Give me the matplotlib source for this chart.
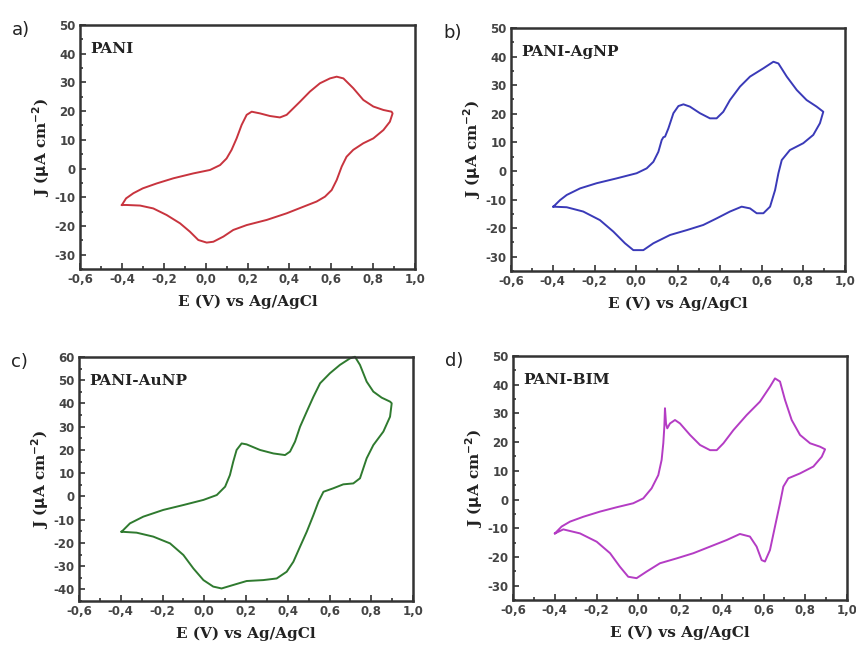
import matplotlib.pyplot as plt
from matplotlib.ticker import MultipleLocator, FuncFormatter

# ---- data (E in V vs Ag/AgCl, J in uA cm-2) ----
# each loop starts at the -0.4 V vertex, runs the anodic branch to 0.9 V and back
E_pani = [-0.40, -0.38, -0.345, -0.30, -0.234, -0.154, -0.059, 0.021, 0.069, 0.10, 0.124,
          0.148, 0.172, 0.196, 0.22, 0.26, 0.307, 0.355, 0.387, 0.419, 0.451, 0.498, 0.546,
          0.594, 0.626, 0.658, 0.705, 0.753, 0.801, 0.849, 0.888, 0.893,
          0.88, 0.849, 0.801, 0.753, 0.705, 0.673, 0.65, 0.626, 0.602, 0.57, 0.53, 0.467,
          0.387, 0.292, 0.196, 0.132, 0.085, 0.037, 0.005, -0.035, -0.075, -0.122, -0.186,
          -0.25, -0.313, -0.377, -0.40]
J_pani = [-12.7, -10.4, -8.6, -6.9, -5.2, -3.4, -1.7, -0.5, 1.2, 3.5, 6.5,
          10.5, 15.2, 18.7, 19.8, 19.2, 18.3, 17.8, 18.7, 21.0, 23.3, 26.8, 29.7,
          31.4, 32.0, 31.4, 28.0, 23.9, 21.6, 20.4, 19.8, 19.2,
          16.3, 13.4, 10.5, 8.8, 6.5, 4.1, 0.7, -4.0, -7.5, -9.8, -11.5, -13.3,
          -15.6, -17.9, -19.7, -21.4, -23.7, -25.5, -25.8, -24.9, -22.0, -19.1, -16.2,
          -13.9, -12.9, -12.7, -12.7]

E_ag = [-0.397, -0.365, -0.333, -0.269, -0.19, -0.094, 0.002, 0.05, 0.082, 0.106, 0.122,
        0.13, 0.138, 0.154, 0.178, 0.202, 0.226, 0.257, 0.305, 0.353, 0.385, 0.417, 0.449,
        0.497, 0.545, 0.609, 0.657, 0.681, 0.721, 0.769, 0.816, 0.864, 0.896,
        0.88, 0.848, 0.80, 0.736, 0.697, 0.681, 0.665, 0.641, 0.609, 0.577, 0.545, 0.505,
        0.449, 0.385, 0.321, 0.242, 0.162, 0.082, 0.034, -0.014, -0.054, -0.11, -0.174,
        -0.254, -0.333, -0.397]
J_ag = [-12.5, -10.2, -8.4, -6.1, -4.3, -2.6, -0.8, 0.9, 3.2, 6.7, 10.8,
        11.8, 12.0, 14.9, 20.2, 22.7, 23.3, 22.5, 20.2, 18.4, 18.4, 20.7, 24.8,
        29.5, 33.0, 35.9, 38.2, 37.6, 33.0, 28.3, 24.8, 22.5, 20.7,
        16.7, 12.6, 9.7, 7.3, 3.8, -0.8, -6.7, -12.5, -14.8, -14.8, -13.1, -12.5,
        -14.2, -16.6, -18.9, -20.7, -22.4, -25.3, -27.7, -27.7, -25.3, -21.2, -17.2,
        -14.2, -12.7, -12.5]

E_au = [-0.396, -0.356, -0.292, -0.196, -0.10, -0.004, 0.06, 0.10, 0.123, 0.139, 0.155,
        0.179, 0.203, 0.267, 0.331, 0.387, 0.411, 0.435, 0.459, 0.491, 0.523, 0.555, 0.602,
        0.65, 0.698, 0.722, 0.746, 0.778, 0.81, 0.85, 0.89, 0.898,
        0.89, 0.858, 0.81, 0.778, 0.746, 0.714, 0.666, 0.618, 0.571, 0.547, 0.523, 0.491,
        0.459, 0.427, 0.395, 0.347, 0.283, 0.203, 0.139, 0.083, 0.043, -0.004, -0.052,
        -0.10, -0.164, -0.244, -0.324, -0.396]
J_au = [-15.2, -11.6, -8.7, -5.8, -3.7, -1.5, 0.6, 4.2, 9.2, 15.0, 20.0,
        22.8, 22.4, 20.0, 18.5, 17.8, 19.3, 23.6, 30.0, 36.5, 42.9, 48.7, 53.0,
        56.6, 59.4, 60.1, 56.6, 49.4, 45.1, 42.5, 40.8, 40.1,
        34.3, 27.9, 22.1, 16.4, 7.8, 5.6, 5.2, 3.5, 2.0, -2.3, -8.0, -15.2,
        -21.6, -28.1, -32.4, -35.3, -36.0, -36.4, -38.1, -39.6, -38.8, -36.0, -31.0,
        -25.2, -20.2, -17.3, -15.6, -15.2]

E_bim = [-0.399, -0.367, -0.327, -0.263, -0.183, -0.104, -0.024, 0.024, 0.064, 0.096, 0.112,
         0.12, 0.125, 0.128, 0.133, 0.139, 0.152, 0.176, 0.20, 0.248, 0.296, 0.344, 0.376,
         0.408, 0.456, 0.519, 0.583, 0.631, 0.655, 0.679, 0.703, 0.735, 0.775, 0.823, 0.871,
         0.895,
         0.879, 0.839, 0.775, 0.719, 0.695, 0.679, 0.655, 0.631, 0.607, 0.591, 0.567, 0.535,
         0.487, 0.424, 0.344, 0.264, 0.184, 0.104, 0.04, -0.008, -0.048, -0.088, -0.135,
         -0.199, -0.279, -0.359, -0.399]
J_bim = [-11.8, -9.4, -7.7, -6.0, -4.2, -2.7, -1.3, 0.4, 3.9, 8.5, 13.8,
         19.6, 25.4, 31.8, 26.5, 24.8, 26.5, 27.7, 26.5, 22.5, 19.0, 17.2, 17.2,
         19.6, 24.2, 29.4, 34.1, 39.3, 42.2, 41.1, 34.7, 27.7, 22.5, 19.6, 18.4,
         17.5,
         14.9, 11.5, 9.1, 7.4, 4.5, -1.3, -9.4, -17.6, -21.6, -21.1, -16.4, -12.9,
         -12.0, -14.1, -16.4, -18.7, -20.5, -22.2, -25.1, -27.4, -26.9, -23.4, -18.7,
         -14.7, -11.8, -10.4, -11.8]

panels = ['a)', 'b)', 'c)', 'd)']
names = ['PANI', 'PANI-AgNP', 'PANI-AuNP', 'PANI-BIM']
xs = [E_pani, E_ag, E_au, E_bim]
ys = [J_pani, J_ag, J_au, J_bim]
colors = ['#c8343e', '#3a3ab8', '#2f7a2f', '#b43cc4']
ylims = [(-35, 50), (-35, 50), (-45, 60), (-35, 50)]
ymaxtick = [50, 50, 60, 50]

# axes boxes in pixels (left, top, right, bottom) of the 856x651 figure
boxes = [(80, 25, 415, 269), (511, 28, 845, 271), (79, 357, 413, 601), (513, 356, 847, 600)]
W, H = 856, 651

fig = plt.figure(figsize=[8.56, 6.51], dpi=100)
comma = FuncFormatter(lambda v, p: ('%.1f' % v).replace('.', ','))
intfmt = FuncFormatter(lambda v, p: '%d' % round(v))

for i in range(4):
    l, t, r, b = boxes[i]
    ax = fig.add_axes([l / W, 1 - b / H, (r - l) / W, (b - t) / H])
    ax.plot(xs[i], ys[i], color=colors[i], linewidth=1.4, solid_joinstyle='round',
            clip_on=False)
    ax.set_xlim(-0.6, 1.0)
    ax.set_yticks(list(range(-40, ymaxtick[i] + 1, 10)))
    ax.set_ylim(*ylims[i])
    ax.xaxis.set_major_locator(MultipleLocator(0.2))
    ax.xaxis.set_minor_locator(MultipleLocator(0.1))
    ax.yaxis.set_minor_locator(MultipleLocator(5))
    ax.xaxis.set_major_formatter(comma)
    ax.yaxis.set_major_formatter(intfmt)
    ax.tick_params(which='both', direction='in', top=False, right=False,
                   colors='#333333', width=1.2)
    ax.tick_params(which='major', length=4, labelsize=8.5, pad=3)
    ax.tick_params(which='minor', length=2)
    for lab in ax.get_xticklabels() + ax.get_yticklabels():
        lab.set_fontweight('bold')
        lab.set_color('#444444')
    for s in ax.spines.values():
        s.set_linewidth(1.8)
        s.set_color('#333333')
    ax.set_xlabel('E (V) vs Ag/AgCl', family='serif', fontweight='bold',
                  fontsize=11, color='#222222', labelpad=6)
    ax.set_ylabel(r'J ($\mathbf{\mu}$A cm$^{\mathbf{-2}}$)', family='serif', fontweight='bold',
                  fontsize=11, color='#222222', labelpad=2)
    ax.text(0.03, 0.93, names[i], transform=ax.transAxes, family='serif',
            fontweight='bold', fontsize=11, color='#222222', va='top')
    fig.text((l - 68) / W, 1 - (t + 5) / H, panels[i], fontsize=13, color='#222222',
             va='center', ha='left')

plt.savefig('out.png', dpi=100)
